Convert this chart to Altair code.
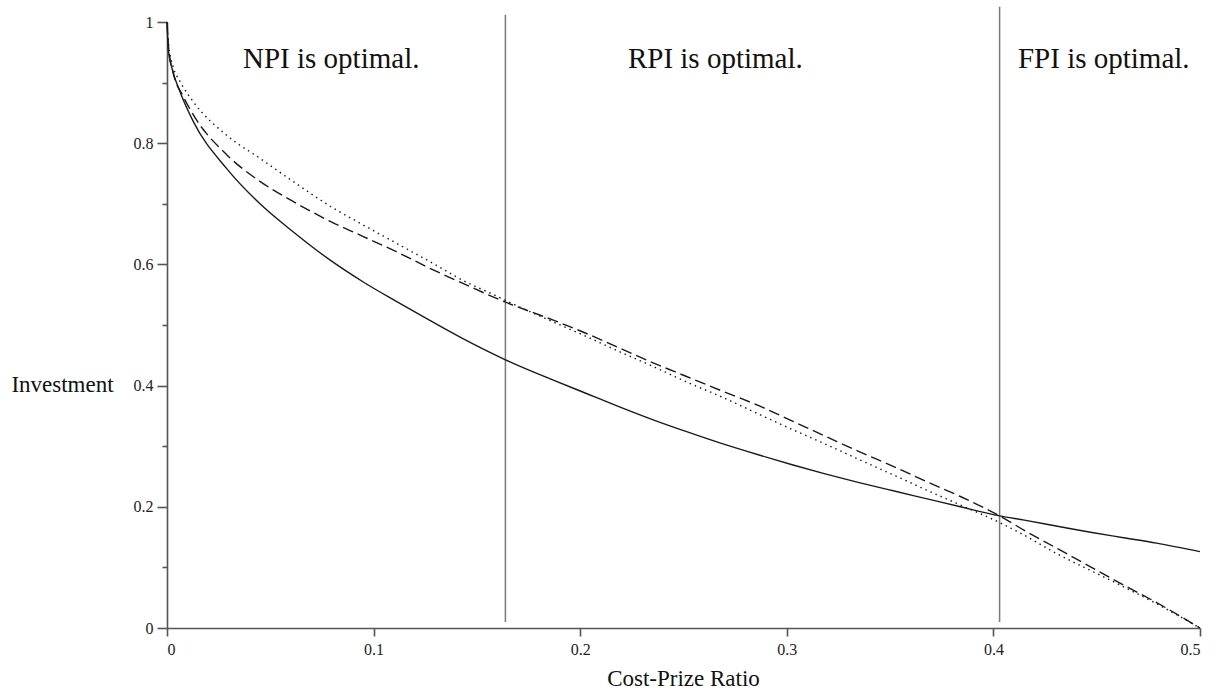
import altair as alt
import pandas as pd

# ---- data ----
solid_x = [0, 0.0006, 0.0023, 0.0063, 0.0127, 0.0289, 0.045, 0.061, 0.079, 0.095, 0.111, 0.127,
           0.143, 0.1636, 0.187, 0.203, 0.219, 0.235, 0.2515, 0.268, 0.287, 0.303, 0.319, 0.335,
           0.352, 0.368, 0.384, 0.403, 0.415, 0.431, 0.447, 0.463, 0.479, 0.5]
solid_y = [1, 0.955, 0.925, 0.885, 0.836, 0.758, 0.700, 0.654, 0.607, 0.571, 0.539, 0.508,
           0.478, 0.443, 0.409, 0.387, 0.365, 0.344, 0.324, 0.305, 0.285, 0.269, 0.254, 0.240,
           0.226, 0.213, 0.200, 0.185, 0.178, 0.168, 0.158, 0.149, 0.140, 0.126]

dashed_x = [0, 0.0008, 0.0031, 0.0079, 0.0127, 0.0289, 0.045, 0.061, 0.079, 0.095, 0.111, 0.127,
            0.143, 0.1636, 0.187, 0.203, 0.219, 0.235, 0.2515, 0.268, 0.287, 0.303, 0.319, 0.335,
            0.352, 0.368, 0.384, 0.403, 0.415, 0.431, 0.447, 0.463, 0.479, 0.5]
dashed_y = [1, 0.957, 0.915, 0.877, 0.847, 0.781, 0.737, 0.704, 0.671, 0.646, 0.621, 0.594,
            0.569, 0.538, 0.508, 0.486, 0.462, 0.438, 0.415, 0.392, 0.366, 0.341, 0.316, 0.291,
            0.266, 0.241, 0.217, 0.185, 0.161, 0.131, 0.101, 0.071, 0.042, 0.0]

dotted_x = [0, 0.0008, 0.0031, 0.0063, 0.0126, 0.0289, 0.045, 0.061, 0.079, 0.095, 0.111, 0.127,
            0.143, 0.160, 0.1636, 0.187, 0.203, 0.219, 0.235, 0.2515, 0.268, 0.287, 0.303, 0.319,
            0.335, 0.352, 0.368, 0.384, 0.403, 0.415, 0.431, 0.447, 0.463, 0.479, 0.5]
dotted_y = [1, 0.962, 0.925, 0.902, 0.869, 0.813, 0.775, 0.737, 0.696, 0.665, 0.635, 0.605,
            0.574, 0.547, 0.541, 0.505, 0.481, 0.456, 0.432, 0.406, 0.382, 0.352, 0.327, 0.303,
            0.278, 0.252, 0.227, 0.203, 0.174, 0.153, 0.122, 0.095, 0.068, 0.040, 0.0]

boundary_x = [0.1638, 0.4030]
boundary_top = [1.012, 1.025]
boundary_bottom = [0.010, 0.010]

region_labels = ["NPI is optimal.", "RPI is optimal.", "FPI is optimal."]
region_x = [0.0368, 0.2231, 0.4119]
region_y = [0.924, 0.924, 0.924]

x_ticks = [0, 0.1, 0.2, 0.3, 0.4, 0.5]
y_ticks = [0, 0.1, 0.2, 0.3, 0.4, 0.5, 0.6, 0.7, 0.8, 0.9, 1]

FONT = "Liberation Serif"
INK = "#1a1a1a"

x_scale = alt.Scale(domain=[0, 0.5], nice=False, zero=False)
y_scale = alt.Scale(domain=[0, 1], nice=False, zero=False)

major = "round(datum.value*10) % 2 == 0"

x_axis = alt.Axis(
    values=x_ticks, format="~g", grid=False, title="Cost-Prize Ratio",
    tickSize=8, labelPadding=5, titleX=516, titleY=50, titleAlign="center",
    titleBaseline="middle",
)
y_axis = alt.Axis(
    values=y_ticks, grid=False, title="Investment",
    labelExpr=f"{major} ? format(datum.value, '~g') : ''",
    tickSize={"condition": {"test": major, "value": 10}, "value": 5},
    labelPadding=4, titleAngle=0, titleX=-105, titleY=362, titleAlign="center",
    titleBaseline="middle",
)

X = alt.X("x:Q", scale=x_scale, axis=x_axis)
Y = alt.Y("y:Q", scale=y_scale, axis=y_axis)


def line(xs, ys, dash):
    df = pd.DataFrame({"x": xs, "y": ys})
    kw = dict(color=INK, strokeWidth=1.4, clip=False, interpolate="monotone")
    if dash:
        kw["strokeDash"] = dash
    return alt.Chart(df).mark_line(**kw).encode(x=X, y=Y)


solid = line(solid_x, solid_y, None)
dashed = line(dashed_x, dashed_y, [11, 5])
dotted = line(dotted_x, dotted_y, [1.5, 4])

rules = alt.Chart(pd.DataFrame({"x": boundary_x, "y": boundary_top, "y2": boundary_bottom})).mark_rule(
    color="#7a7a7a", strokeWidth=1.5
).encode(x=X, y=Y, y2="y2:Q")

labels = alt.Chart(pd.DataFrame({"x": region_x, "y": region_y, "label": region_labels})).mark_text(
    font=FONT, fontSize=29, align="left", baseline="alphabetic", color="#111111"
).encode(x=X, y=Y, text="label:N")

chart = alt.layer(rules, dotted, dashed, solid, labels).properties(
    width=1033, height=606,
    autosize=alt.AutoSizeParams(type="none"),
    padding={"left": 167, "top": 22, "right": 19, "bottom": 64},
    background="white",
).configure_view(stroke=None).configure_axis(
    labelFont=FONT, labelFontSize=16, labelColor="#222222",
    titleFont=FONT, titleFontSize=23, titleFontWeight="normal", titleColor="#111111",
    domainColor="#555555", domainWidth=1.6, tickColor="#555555", tickWidth=1.6,
)

chart.save("out.html", embed_options={"renderer": "svg", "actions": False})
